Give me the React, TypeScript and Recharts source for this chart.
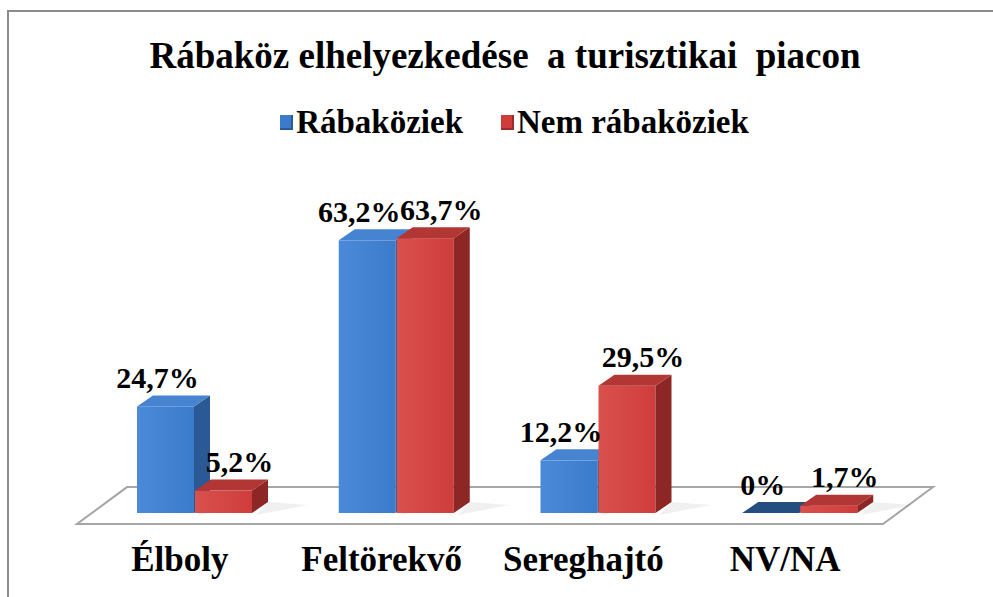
import { BarChart, Bar, XAxis, YAxis, Legend, LabelList, ReferenceArea } from "recharts";

const categories = ["Élboly", "Feltörekvő", "Sereghajtó", "NV/NA"];
const rabakoziek = [24.7, 63.2, 12.2, 0];
const nemRabakoziek = [5.2, 63.7, 29.5, 1.7];
const seriesNames = ["Rábaköziek", "Nem rábaköziek"];

const data = categories.map((name, i) => ({
  name,
  rab: rabakoziek[i],
  nem: nemRabakoziek[i],
}));

const FONT = '"Liberation Serif", "Times New Roman", serif';
const DX = 16; // 3d depth
const DY = -11;

const palette = {
  blue: { front: "#3b7bcb", light: "#4a8ad8", side: "#2a5996", top: "#4684d2", flat: "#244d80" },
  red: { front: "#cf3d3b", light: "#d9504d", side: "#8c2725", top: "#b23634", flat: "#a02f2d" },
};

const fmt = (v: number) => `${String(v).replace(".", ",")}%`;

function makeBox(key: "blue" | "red") {
  const c = palette[key];
  return (props: any) => {
    const { x, y, width, height } = props;
    const h = Math.max(height || 0, 0);
    const w = width;
    if (h < 1) {
      return (
        <g>
          <polygon
            points={`${x},${y} ${x + DX},${y + DY} ${x + w + DX},${y + DY} ${x + w},${y}`}
            fill={c.flat}
          />
        </g>
      );
    }
    return (
      <g>
        <polygon
          points={`${x + w + DX + 40},${y + h + DY + 3} ${x + w + 4},${y + h + 2} ${x + w + DX},${y + h + DY}`}
          fill="#000"
          opacity={0.06}
        />
        <rect x={x} y={y} width={w} height={h} fill={`url(#front-${key})`} />
        <polygon
          points={`${x + w},${y} ${x + w + DX},${y + DY} ${x + w + DX},${y + h + DY} ${x + w},${y + h}`}
          fill={c.side}
        />
        <polygon
          points={`${x},${y} ${x + DX},${y + DY} ${x + w + DX},${y + DY} ${x + w},${y}`}
          fill={c.top}
        />
      </g>
    );
  };
}

const Floor = (props: any) => {
  const { x, y, width, height } = props;
  const base = y + height;
  const front = base + 11;
  const pts = [
    [x + 33, y],
    [x + width + 32, y],
    [x + width - 18, front],
    [x - 17, front],
  ]
    .map((p) => p.join(","))
    .join(" ");
  return <polygon points={pts} fill="#fff" stroke="#a6a6a6" strokeWidth={2} />;
};

const makeLabel = (dx: number) => (props: any) => {
  const { x, y, width, value } = props;
  return (
    <text
      x={x + width / 2 + dx}
      y={y - 29}
      textAnchor="middle"
      dominantBaseline="central"
      fontFamily={FONT}
      fontWeight="bold"
      fontSize={30}
      fill="#000"
    >
      {fmt(value)}
    </text>
  );
};

const CategoryTick = (props: any) => {
  const { x, y, payload } = props;
  return (
    <text
      x={x - 15}
      y={y + 38}
      textAnchor="middle"
      dominantBaseline="central"
      fontFamily={FONT}
      fontWeight="bold"
      fontSize={35}
      fill="#000"
    >
      {payload.value}
    </text>
  );
};

const LegendBox = () => (
  <div
    style={{
      display: "flex",
      justifyContent: "center",
      alignItems: "center",
      gap: 38,
      fontFamily: FONT,
      fontWeight: "bold",
      fontSize: 33,
      paddingLeft: 36,
    }}
  >
    {seriesNames.map((n, i) => (
      <div key={n} style={{ display: "flex", alignItems: "center", gap: 3 }}>
        <span
          style={{
            display: "inline-block",
            width: 13,
            height: 15,
            background: i === 0 ? palette.blue.front : palette.red.front,
            boxShadow: "inset -2px -2px 0 rgba(0,0,0,0.25)",
          }}
        />
        <span>{n}</span>
      </div>
    ))}
  </div>
);

export default function App() {
  return (
    <div style={{ position: "absolute", left: 0, top: 0, width: 993, height: 597, background: "#fff", overflow: "hidden" }}>
      <div
        style={{
          position: "absolute",
          left: 7,
          top: 10,
          width: 1000,
          height: 600,
          borderLeft: "2px solid #8c8c8c",
          borderTop: "2px solid #8c8c8c",
        }}
      />
      <div
        style={{
          position: "absolute",
          left: 0,
          top: 34,
          width: 1010,
          textAlign: "center",
          fontFamily: FONT,
          fontWeight: "bold",
          fontSize: 37,
          whiteSpace: "pre",
        }}
      >
        Rábaköz elhelyezkedése  a turisztikai  piacon
      </div>
      <BarChart
        width={993}
        height={597}
        data={data}
        margin={{ top: 211, right: 92, left: 94, bottom: 0 }}
        barSize={57}
        barGap={1}
      >
        <defs>
          <linearGradient id="front-blue" x1="0" y1="0" x2="1" y2="0">
            <stop offset="0" stopColor={palette.blue.light} />
            <stop offset="1" stopColor={palette.blue.front} />
          </linearGradient>
          <linearGradient id="front-red" x1="0" y1="0" x2="1" y2="0">
            <stop offset="0" stopColor={palette.red.light} />
            <stop offset="1" stopColor={palette.red.front} />
          </linearGradient>
        </defs>
        <XAxis dataKey="name" axisLine={false} tickLine={false} height={84} tick={<CategoryTick />} interval={0} />
        <YAxis hide domain={[0, 70]} />
        <ReferenceArea y1={0} y2={6} shape={<Floor />} ifOverflow="visible" />
        <Legend
          verticalAlign="middle"
          align="center"
          content={<LegendBox />}
          wrapperStyle={{ top: 104, left: 0, width: 993 }}
        />
        <Bar dataKey="rab" name={seriesNames[0]} shape={makeBox("blue")} isAnimationActive={false}>
          <LabelList dataKey="rab" content={makeLabel(-8)} />
        </Bar>
        <Bar dataKey="nem" name={seriesNames[1]} shape={makeBox("red")} isAnimationActive={false}>
          <LabelList dataKey="nem" content={makeLabel(16)} />
        </Bar>
      </BarChart>
    </div>
  );
}
